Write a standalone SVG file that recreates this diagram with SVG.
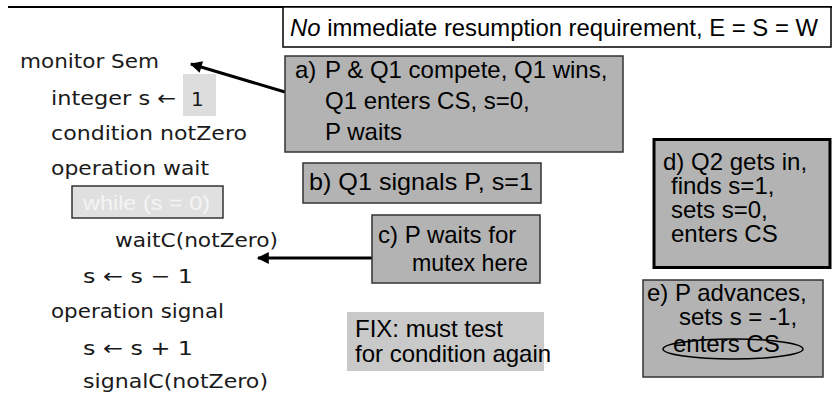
<svg xmlns="http://www.w3.org/2000/svg" width="832" height="394" viewBox="0 0 832 394">
<defs>
<marker id="ah" viewBox="0 0 10 10" refX="9" refY="5" markerWidth="5" markerHeight="4" orient="auto" markerUnits="strokeWidth">
<path d="M0,0 L10,5 L0,10 z" fill="#000"/>
</marker>
<style>
.code{font-family:"DejaVu Sans",sans-serif;font-size:20px;fill:#1a1a1a}
.t{font-family:"Liberation Sans",Arial,sans-serif;font-size:24px;fill:#000}
.box{fill:#b3b3b3;stroke:#333;stroke-width:1.5}
.conn{stroke:#000;stroke-width:3;fill:none;marker-end:url(#ah)}
</style>
</defs>
<rect width="832" height="394" fill="#fff"/>
<line x1="8" y1="7" x2="832" y2="7" stroke="#000" stroke-width="2"/>
<g id="title">
<rect x="283" y="7" width="548" height="40" fill="#fff" stroke="#000" stroke-width="1.5"/>
<text class="t" x="290" y="36" textLength="528" lengthAdjust="spacingAndGlyphs"><tspan font-style="italic">No</tspan> immediate resumption requirement, E = S = W</text>
</g>
<g id="code">
<text class="code" x="20" y="68" textLength="139" lengthAdjust="spacingAndGlyphs">monitor Sem</text>
<rect x="183" y="74" width="33" height="42" fill="#dddddd"/>
<text class="code" x="51" y="105" textLength="125" lengthAdjust="spacingAndGlyphs">integer s ←</text>
<text class="code" x="191" y="106" font-size="23">1</text>
<text class="code" x="51" y="140" textLength="196" lengthAdjust="spacingAndGlyphs">condition notZero</text>
<text class="code" x="51" y="175" textLength="158" lengthAdjust="spacingAndGlyphs">operation wait</text>
<rect x="72" y="186" width="151" height="32" fill="#e0e0e0" stroke="#333" stroke-width="1.5"/>
<text x="83" y="210" font-family="Liberation Sans, Arial, sans-serif" font-size="21" fill="#f4f4f4" textLength="127" lengthAdjust="spacingAndGlyphs">while (s = 0)</text>
<text class="code" x="115" y="247" textLength="163" lengthAdjust="spacingAndGlyphs">waitC(notZero)</text>
<text class="code" x="83" y="283" textLength="110" lengthAdjust="spacingAndGlyphs">s ← s − 1</text>
<text class="code" x="51" y="318" textLength="173" lengthAdjust="spacingAndGlyphs">operation signal</text>
<text class="code" x="83" y="355" textLength="110" lengthAdjust="spacingAndGlyphs">s ← s + 1</text>
<text class="code" x="83" y="388" textLength="185" lengthAdjust="spacingAndGlyphs">signalC(notZero)</text>
</g>
<g id="connectors">
<line class="conn" x1="285" y1="92" x2="191" y2="64"/>
<line class="conn" x1="372" y1="258" x2="258" y2="258"/>
</g>
<g id="a">
<rect class="box" x="285" y="56" width="338" height="96" stroke-width="2"/>
<text class="t" x="295" y="78">a)</text>
<text class="t" x="325" y="78">P &amp; Q1 compete, Q1 wins,</text>
<text class="t" x="325" y="109">Q1 enters CS, s=0,</text>
<text class="t" x="325" y="140">P waits</text>
</g>
<g id="b">
<rect class="box" x="303" y="163" width="238" height="40"/>
<text class="t" x="309" y="190" textLength="224" lengthAdjust="spacingAndGlyphs">b) Q1 signals P, s=1</text>
</g>
<g id="c">
<rect class="box" x="372" y="215" width="168" height="68"/>
<text class="t" x="378" y="243">c) P waits for</text>
<text class="t" x="412" y="271" textLength="116" lengthAdjust="spacingAndGlyphs">mutex here</text>
</g>
<g id="fix">
<rect x="347" y="312" width="197" height="59" fill="#c9c9c9"/>
<text class="t" x="355" y="337" font-size="22">FIX: must test</text>
<text class="t" x="355" y="362" font-size="22">for condition again</text>
</g>
<g id="d">
<rect x="654" y="139.5" width="176" height="128" fill="#b3b3b3" stroke="#000" stroke-width="3"/>
<text class="t" x="663" y="170">d) Q2 gets in,</text>
<text class="t" x="671" y="194">finds s=1,</text>
<text class="t" x="671" y="218">sets s=0,</text>
<text class="t" x="671" y="242">enters CS</text>
</g>
<g id="e">
<rect class="box" x="643" y="280" width="180" height="97"/>
<text class="t" x="647" y="301">e) P advances,</text>
<text class="t" x="679" y="325">sets s = -1,</text>
<text class="t" x="673" y="352">enters CS</text>
<ellipse cx="733" cy="349" rx="70" ry="10" fill="none" stroke="#000" stroke-width="1.5"/>
</g>
</svg>
